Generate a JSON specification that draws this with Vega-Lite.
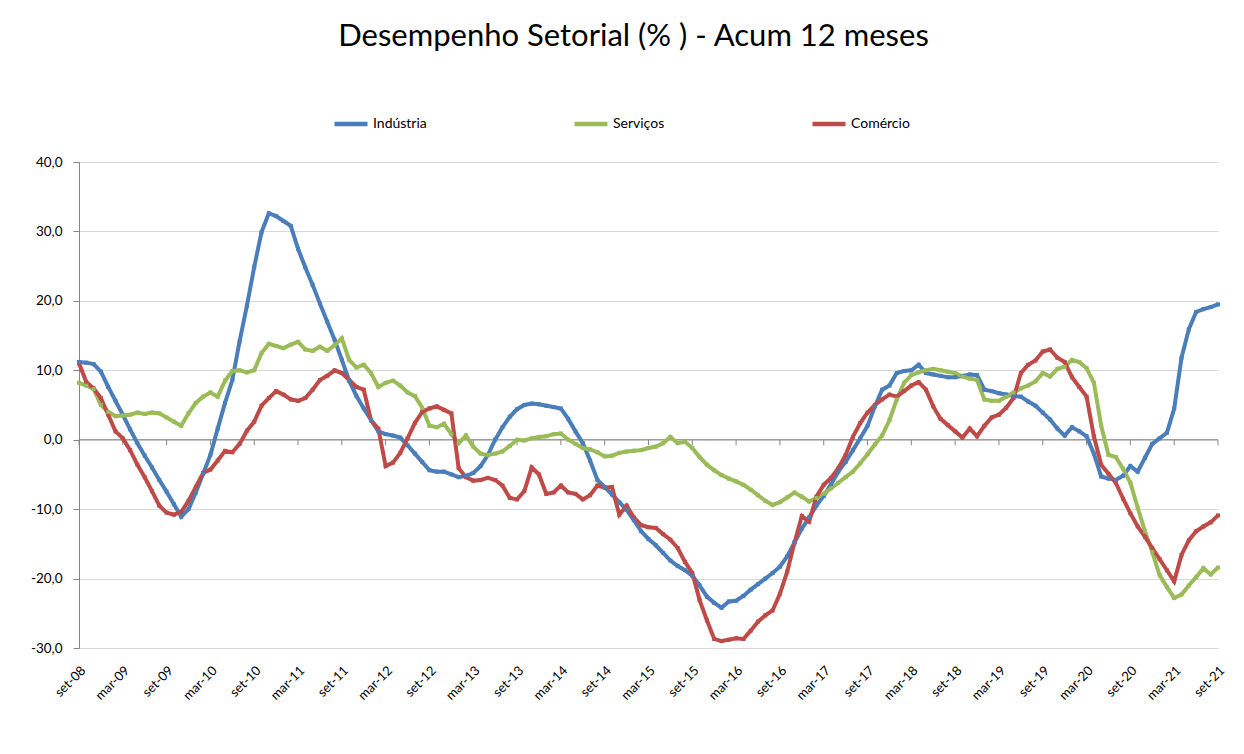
{
  "$schema": "https://vega.github.io/schema/vega-lite/v6.json",
  "width": 1139,
  "height": 486,
  "autosize": {"type": "none"},
  "padding": {"left": 79, "top": 162, "right": 26, "bottom": 106},
  "background": "white",
  "title": {"text": "Desempenho Setorial (% ) - Acum 12 meses", "font": "Lato", "fontSize": 31, "fontWeight": "normal", "color": "#000000", "anchor": "middle", "frame": "group", "dx": -15, "offset": 28, "baseline": "alphabetic"},
  "data": {"values": [
    {"m":"set-08","Indústria":11.2,"Serviços":8.2,"Comércio":11.0},
    {"m":"out-08","Indústria":11.1,"Serviços":7.8,"Comércio":8.3},
    {"m":"nov-08","Indústria":10.9,"Serviços":7.3,"Comércio":7.4},
    {"m":"dez-08","Indústria":9.8,"Serviços":5.0,"Comércio":6.0},
    {"m":"jan-09","Indústria":7.6,"Serviços":4.0,"Comércio":3.6},
    {"m":"fev-09","Indústria":5.6,"Serviços":3.4,"Comércio":1.2},
    {"m":"mar-09","Indústria":3.6,"Serviços":3.5,"Comércio":0.2},
    {"m":"abr-09","Indústria":1.5,"Serviços":3.6,"Comércio":-1.5},
    {"m":"mai-09","Indústria":-0.5,"Serviços":3.9,"Comércio":-3.6},
    {"m":"jun-09","Indústria":-2.3,"Serviços":3.7,"Comércio":-5.4},
    {"m":"jul-09","Indústria":-4.0,"Serviços":3.9,"Comércio":-7.4},
    {"m":"ago-09","Indústria":-5.8,"Serviços":3.8,"Comércio":-9.5},
    {"m":"set-09","Indústria":-7.5,"Serviços":3.2,"Comércio":-10.5},
    {"m":"out-09","Indústria":-9.3,"Serviços":2.6,"Comércio":-10.8},
    {"m":"nov-09","Indústria":-11.1,"Serviços":2.0,"Comércio":-10.4},
    {"m":"dez-09","Indústria":-10.0,"Serviços":3.8,"Comércio":-8.8},
    {"m":"jan-10","Indústria":-7.6,"Serviços":5.3,"Comércio":-6.8},
    {"m":"fev-10","Indústria":-4.9,"Serviços":6.2,"Comércio":-4.8},
    {"m":"mar-10","Indústria":-2.2,"Serviços":6.8,"Comércio":-4.3},
    {"m":"abr-10","Indústria":1.6,"Serviços":6.2,"Comércio":-3.0},
    {"m":"mai-10","Indústria":5.3,"Serviços":8.5,"Comércio":-1.6},
    {"m":"jun-10","Indústria":8.6,"Serviços":9.9,"Comércio":-1.8},
    {"m":"jul-10","Indústria":14.2,"Serviços":10.0,"Comércio":-0.6},
    {"m":"ago-10","Indústria":19.3,"Serviços":9.7,"Comércio":1.3},
    {"m":"set-10","Indústria":24.9,"Serviços":10.0,"Comércio":2.6},
    {"m":"out-10","Indústria":29.9,"Serviços":12.5,"Comércio":4.9},
    {"m":"nov-10","Indústria":32.6,"Serviços":13.8,"Comércio":6.0},
    {"m":"dez-10","Indústria":32.2,"Serviços":13.5,"Comércio":7.0},
    {"m":"jan-11","Indústria":31.5,"Serviços":13.2,"Comércio":6.5},
    {"m":"fev-11","Indústria":30.8,"Serviços":13.7,"Comércio":5.8},
    {"m":"mar-11","Indústria":27.5,"Serviços":14.1,"Comércio":5.6},
    {"m":"abr-11","Indústria":24.8,"Serviços":13.0,"Comércio":6.0},
    {"m":"mai-11","Indústria":22.3,"Serviços":12.8,"Comércio":7.2},
    {"m":"jun-11","Indústria":19.6,"Serviços":13.4,"Comércio":8.6},
    {"m":"jul-11","Indústria":17.0,"Serviços":12.8,"Comércio":9.2},
    {"m":"ago-11","Indústria":14.4,"Serviços":13.6,"Comércio":10.0},
    {"m":"set-11","Indústria":11.5,"Serviços":14.6,"Comércio":9.6},
    {"m":"out-11","Indústria":8.5,"Serviços":11.5,"Comércio":8.6},
    {"m":"nov-11","Indústria":6.3,"Serviços":10.4,"Comércio":7.6},
    {"m":"dez-11","Indústria":4.5,"Serviços":10.8,"Comércio":7.2},
    {"m":"jan-12","Indústria":2.8,"Serviços":9.6,"Comércio":2.8},
    {"m":"fev-12","Indústria":1.2,"Serviços":7.6,"Comércio":1.6},
    {"m":"mar-12","Indústria":0.8,"Serviços":8.2,"Comércio":-3.8},
    {"m":"abr-12","Indústria":0.6,"Serviços":8.5,"Comércio":-3.3},
    {"m":"mai-12","Indústria":0.3,"Serviços":7.8,"Comércio":-1.9},
    {"m":"jun-12","Indústria":-0.8,"Serviços":6.8,"Comércio":0.2},
    {"m":"jul-12","Indústria":-2.0,"Serviços":6.3,"Comércio":2.4},
    {"m":"ago-12","Indústria":-3.2,"Serviços":4.6,"Comércio":4.0},
    {"m":"set-12","Indústria":-4.4,"Serviços":2.0,"Comércio":4.5},
    {"m":"out-12","Indústria":-4.6,"Serviços":1.8,"Comércio":4.8},
    {"m":"nov-12","Indústria":-4.6,"Serviços":2.3,"Comércio":4.3},
    {"m":"dez-12","Indústria":-5.0,"Serviços":0.8,"Comércio":3.8},
    {"m":"jan-13","Indústria":-5.4,"Serviços":-0.5,"Comércio":-4.1},
    {"m":"fev-13","Indústria":-5.2,"Serviços":0.6,"Comércio":-5.4},
    {"m":"mar-13","Indústria":-4.8,"Serviços":-1.0,"Comércio":-5.9},
    {"m":"abr-13","Indústria":-3.8,"Serviços":-2.0,"Comércio":-5.8},
    {"m":"mai-13","Indústria":-2.2,"Serviços":-2.2,"Comércio":-5.5},
    {"m":"jun-13","Indústria":0.0,"Serviços":-2.0,"Comércio":-5.8},
    {"m":"jul-13","Indústria":1.8,"Serviços":-1.7,"Comércio":-6.6},
    {"m":"ago-13","Indústria":3.3,"Serviços":-0.9,"Comércio":-8.4},
    {"m":"set-13","Indústria":4.4,"Serviços":0.0,"Comércio":-8.6},
    {"m":"out-13","Indústria":5.0,"Serviços":-0.1,"Comércio":-7.4},
    {"m":"nov-13","Indústria":5.2,"Serviços":0.2,"Comércio":-4.0},
    {"m":"dez-13","Indústria":5.1,"Serviços":0.4,"Comércio":-5.0},
    {"m":"jan-14","Indústria":4.9,"Serviços":0.5,"Comércio":-7.8},
    {"m":"fev-14","Indústria":4.7,"Serviços":0.8,"Comércio":-7.6},
    {"m":"mar-14","Indústria":4.5,"Serviços":0.9,"Comércio":-6.6},
    {"m":"abr-14","Indústria":3.0,"Serviços":0.0,"Comércio":-7.6},
    {"m":"mai-14","Indústria":1.2,"Serviços":-0.6,"Comércio":-7.8},
    {"m":"jun-14","Indústria":-0.5,"Serviços":-1.2,"Comércio":-8.6},
    {"m":"jul-14","Indústria":-3.0,"Serviços":-1.4,"Comércio":-8.0},
    {"m":"ago-14","Indústria":-5.8,"Serviços":-1.8,"Comércio":-6.6},
    {"m":"set-14","Indústria":-6.8,"Serviços":-2.4,"Comércio":-6.9},
    {"m":"out-14","Indústria":-7.9,"Serviços":-2.3,"Comércio":-6.8},
    {"m":"nov-14","Indústria":-9.0,"Serviços":-1.9,"Comércio":-10.8},
    {"m":"dez-14","Indústria":-10.1,"Serviços":-1.7,"Comércio":-9.5},
    {"m":"jan-15","Indústria":-11.6,"Serviços":-1.6,"Comércio":-11.2},
    {"m":"fev-15","Indústria":-13.2,"Serviços":-1.5,"Comércio":-12.3},
    {"m":"mar-15","Indústria":-14.3,"Serviços":-1.2,"Comércio":-12.6},
    {"m":"abr-15","Indústria":-15.2,"Serviços":-1.0,"Comércio":-12.7},
    {"m":"mai-15","Indústria":-16.3,"Serviços":-0.5,"Comércio":-13.6},
    {"m":"jun-15","Indústria":-17.4,"Serviços":0.4,"Comércio":-14.4},
    {"m":"jul-15","Indústria":-18.2,"Serviços":-0.5,"Comércio":-15.6},
    {"m":"ago-15","Indústria":-18.8,"Serviços":-0.3,"Comércio":-17.6},
    {"m":"set-15","Indústria":-19.6,"Serviços":-1.2,"Comércio":-19.2},
    {"m":"out-15","Indústria":-21.0,"Serviços":-2.5,"Comércio":-23.1},
    {"m":"nov-15","Indústria":-22.6,"Serviços":-3.6,"Comércio":-26.0},
    {"m":"dez-15","Indústria":-23.5,"Serviços":-4.4,"Comércio":-28.7},
    {"m":"jan-16","Indústria":-24.2,"Serviços":-5.1,"Comércio":-29.0},
    {"m":"fev-16","Indústria":-23.3,"Serviços":-5.6,"Comércio":-28.8},
    {"m":"mar-16","Indústria":-23.2,"Serviços":-6.0,"Comércio":-28.6},
    {"m":"abr-16","Indústria":-22.5,"Serviços":-6.5,"Comércio":-28.7},
    {"m":"mai-16","Indústria":-21.6,"Serviços":-7.2,"Comércio":-27.5},
    {"m":"jun-16","Indústria":-20.8,"Serviços":-8.0,"Comércio":-26.2},
    {"m":"jul-16","Indústria":-20.0,"Serviços":-8.8,"Comércio":-25.3},
    {"m":"ago-16","Indústria":-19.2,"Serviços":-9.4,"Comércio":-24.6},
    {"m":"set-16","Indústria":-18.3,"Serviços":-9.0,"Comércio":-22.2},
    {"m":"out-16","Indústria":-16.8,"Serviços":-8.3,"Comércio":-19.0},
    {"m":"nov-16","Indústria":-14.8,"Serviços":-7.6,"Comércio":-14.8},
    {"m":"dez-16","Indústria":-12.8,"Serviços":-8.2,"Comércio":-11.0},
    {"m":"jan-17","Indústria":-11.2,"Serviços":-8.9,"Comércio":-11.8},
    {"m":"fev-17","Indústria":-9.5,"Serviços":-8.4,"Comércio":-8.2},
    {"m":"mar-17","Indústria":-8.1,"Serviços":-7.8,"Comércio":-6.5},
    {"m":"abr-17","Indústria":-6.4,"Serviços":-7.0,"Comércio":-5.5},
    {"m":"mai-17","Indústria":-4.6,"Serviços":-6.2,"Comércio":-4.1},
    {"m":"jun-17","Indústria":-3.2,"Serviços":-5.4,"Comércio":-2.2},
    {"m":"jul-17","Indústria":-1.5,"Serviços":-4.6,"Comércio":0.4},
    {"m":"ago-17","Indústria":0.2,"Serviços":-3.4,"Comércio":2.4},
    {"m":"set-17","Indústria":2.0,"Serviços":-2.1,"Comércio":3.9},
    {"m":"out-17","Indústria":4.8,"Serviços":-0.7,"Comércio":5.0},
    {"m":"nov-17","Indústria":7.2,"Serviços":0.6,"Comércio":5.8},
    {"m":"dez-17","Indústria":7.8,"Serviços":2.8,"Comércio":6.5},
    {"m":"jan-18","Indústria":9.6,"Serviços":5.8,"Comércio":6.2},
    {"m":"fev-18","Indústria":9.9,"Serviços":8.2,"Comércio":7.0},
    {"m":"mar-18","Indústria":10.0,"Serviços":9.3,"Comércio":7.8},
    {"m":"abr-18","Indústria":10.8,"Serviços":9.7,"Comércio":8.3},
    {"m":"mai-18","Indústria":9.6,"Serviços":10.0,"Comércio":7.2},
    {"m":"jun-18","Indústria":9.4,"Serviços":10.2,"Comércio":4.8},
    {"m":"jul-18","Indústria":9.2,"Serviços":10.0,"Comércio":3.0},
    {"m":"ago-18","Indústria":9.0,"Serviços":9.8,"Comércio":2.1},
    {"m":"set-18","Indústria":9.0,"Serviços":9.6,"Comércio":1.2},
    {"m":"out-18","Indústria":9.2,"Serviços":9.1,"Comércio":0.3},
    {"m":"nov-18","Indústria":9.4,"Serviços":8.8,"Comércio":1.6},
    {"m":"dez-18","Indústria":9.3,"Serviços":8.6,"Comércio":0.5},
    {"m":"jan-19","Indústria":7.2,"Serviços":5.8,"Comércio":2.0},
    {"m":"fev-19","Indústria":7.0,"Serviços":5.6,"Comércio":3.2},
    {"m":"mar-19","Indústria":6.7,"Serviços":5.6,"Comércio":3.6},
    {"m":"abr-19","Indústria":6.5,"Serviços":6.2,"Comércio":4.6},
    {"m":"mai-19","Indústria":6.3,"Serviços":6.8,"Comércio":6.0},
    {"m":"jun-19","Indústria":6.2,"Serviços":7.4,"Comércio":9.6},
    {"m":"jul-19","Indústria":5.5,"Serviços":7.8,"Comércio":10.8},
    {"m":"ago-19","Indústria":4.9,"Serviços":8.4,"Comércio":11.4},
    {"m":"set-19","Indústria":3.9,"Serviços":9.6,"Comércio":12.7},
    {"m":"out-19","Indústria":2.9,"Serviços":9.1,"Comércio":13.0},
    {"m":"nov-19","Indústria":1.6,"Serviços":10.2,"Comércio":11.8},
    {"m":"dez-19","Indústria":0.6,"Serviços":10.5,"Comércio":11.2},
    {"m":"jan-20","Indústria":1.8,"Serviços":11.5,"Comércio":9.0},
    {"m":"fev-20","Indústria":1.2,"Serviços":11.2,"Comércio":7.6},
    {"m":"mar-20","Indústria":0.5,"Serviços":10.3,"Comércio":6.2},
    {"m":"abr-20","Indústria":-2.0,"Serviços":8.2,"Comércio":0.5},
    {"m":"mai-20","Indústria":-5.3,"Serviços":2.0,"Comércio":-3.6},
    {"m":"jun-20","Indústria":-5.6,"Serviços":-2.2,"Comércio":-4.9},
    {"m":"jul-20","Indústria":-5.8,"Serviços":-2.5,"Comércio":-6.2},
    {"m":"ago-20","Indústria":-5.2,"Serviços":-4.2,"Comércio":-8.5},
    {"m":"set-20","Indústria":-3.8,"Serviços":-6.2,"Comércio":-10.6},
    {"m":"out-20","Indústria":-4.6,"Serviços":-9.8,"Comércio":-12.5},
    {"m":"nov-20","Indústria":-2.6,"Serviços":-13.2,"Comércio":-14.0},
    {"m":"dez-20","Indústria":-0.6,"Serviços":-16.2,"Comércio":-15.6},
    {"m":"jan-21","Indústria":0.2,"Serviços":-19.5,"Comércio":-17.2},
    {"m":"fev-21","Indústria":1.0,"Serviços":-21.2,"Comércio":-18.8},
    {"m":"mar-21","Indústria":4.5,"Serviços":-22.8,"Comércio":-20.4},
    {"m":"abr-21","Indústria":11.8,"Serviços":-22.3,"Comércio":-16.6},
    {"m":"mai-21","Indústria":15.9,"Serviços":-21.0,"Comércio":-14.5},
    {"m":"jun-21","Indústria":18.4,"Serviços":-19.8,"Comércio":-13.2},
    {"m":"jul-21","Indústria":18.8,"Serviços":-18.5,"Comércio":-12.5},
    {"m":"ago-21","Indústria":19.1,"Serviços":-19.4,"Comércio":-11.9},
    {"m":"set-21","Indústria":19.5,"Serviços":-18.4,"Comércio":-10.9}
  ]},
  "layer": [
    {
      "data": {"values": [{}]},
      "mark": {"type": "rule", "color": "#868686", "strokeWidth": 1},
      "encoding": {"y": {"datum": 0, "type": "quantitative"}}
    },
    {
      "transform": [{"filter": {"field": "m", "oneOf": ["set-08","mar-09","set-09","mar-10","set-10","mar-11","set-11","mar-12","set-12","mar-13","set-13","mar-14","set-14","mar-15","set-15","mar-16","set-16","mar-17","set-17","mar-18","set-18","mar-19","set-19","mar-20","set-20","mar-21","set-21"]}}],
      "mark": {"type": "rule", "color": "#868686", "strokeWidth": 1},
      "encoding": {
        "x": {"field": "m", "type": "ordinal"},
        "y": {"datum": 0, "type": "quantitative"},
        "y2": {"datum": -0.8}
      }
    },
    {
      "transform": [{"fold": ["Indústria", "Serviços", "Comércio"], "as": ["serie", "valor"]}],
      "mark": {"type": "line", "strokeWidth": 4, "point": {"shape": "square", "size": 16, "filled": true}},
      "encoding": {
        "x": {
          "field": "m", "type": "ordinal",
          "scale": {"type": "point", "padding": 0, "domain": ["set-08","out-08","nov-08","dez-08","jan-09","fev-09","mar-09","abr-09","mai-09","jun-09","jul-09","ago-09","set-09","out-09","nov-09","dez-09","jan-10","fev-10","mar-10","abr-10","mai-10","jun-10","jul-10","ago-10","set-10","out-10","nov-10","dez-10","jan-11","fev-11","mar-11","abr-11","mai-11","jun-11","jul-11","ago-11","set-11","out-11","nov-11","dez-11","jan-12","fev-12","mar-12","abr-12","mai-12","jun-12","jul-12","ago-12","set-12","out-12","nov-12","dez-12","jan-13","fev-13","mar-13","abr-13","mai-13","jun-13","jul-13","ago-13","set-13","out-13","nov-13","dez-13","jan-14","fev-14","mar-14","abr-14","mai-14","jun-14","jul-14","ago-14","set-14","out-14","nov-14","dez-14","jan-15","fev-15","mar-15","abr-15","mai-15","jun-15","jul-15","ago-15","set-15","out-15","nov-15","dez-15","jan-16","fev-16","mar-16","abr-16","mai-16","jun-16","jul-16","ago-16","set-16","out-16","nov-16","dez-16","jan-17","fev-17","mar-17","abr-17","mai-17","jun-17","jul-17","ago-17","set-17","out-17","nov-17","dez-17","jan-18","fev-18","mar-18","abr-18","mai-18","jun-18","jul-18","ago-18","set-18","out-18","nov-18","dez-18","jan-19","fev-19","mar-19","abr-19","mai-19","jun-19","jul-19","ago-19","set-19","out-19","nov-19","dez-19","jan-20","fev-20","mar-20","abr-20","mai-20","jun-20","jul-20","ago-20","set-20","out-20","nov-20","dez-20","jan-21","fev-21","mar-21","abr-21","mai-21","jun-21","jul-21","ago-21","set-21"]},
          "axis": {
            "values": ["set-08","mar-09","set-09","mar-10","set-10","mar-11","set-11","mar-12","set-12","mar-13","set-13","mar-14","set-14","mar-15","set-15","mar-16","set-16","mar-17","set-17","mar-18","set-18","mar-19","set-19","mar-20","set-20","mar-21","set-21"],
            "title": null, "labelAngle": -45, "labelAlign": "right", "labelBaseline": "middle",
            "labelPadding": 20, "labelOffset": 4, "ticks": false, "domain": false, "grid": false,
            "labelFont": "Lato", "labelFontSize": 13, "labelColor": "#000000", "labelOverlap": false
          }
        },
        "y": {
          "field": "valor", "type": "quantitative",
          "scale": {"domain": [-30, 40], "nice": false, "zero": false},
          "axis": {
            "values": [-30, -20, -10, 0, 10, 20, 30, 40], "title": null,
            "grid": true, "gridColor": "#d9d9d9", "gridWidth": 1,
            "domainColor": "#868686", "tickColor": "#868686", "tickSize": 6,
            "labelFont": "Lato", "labelFontSize": 13.5, "labelColor": "#000000", "labelPadding": 11,
            "labelExpr": "replace(replace(format(datum.value, '.1f'), '.', ','), '−', '-')"
          }
        },
        "color": {
          "field": "serie", "type": "nominal",
          "scale": {"domain": ["Indústria", "Serviços", "Comércio"], "range": ["#4A7EBB", "#9BBB59", "#BE4B48"]},
          "legend": {
            "orient": "none", "legendX": 253, "legendY": -57, "direction": "horizontal", "title": null,
            "symbolType": "stroke", "symbolSize": 1089, "symbolStrokeWidth": 4.5,
            "labelFont": "Lato", "labelFontSize": 14, "labelColor": "#000000", "labelOffset": 3,
            "columnPadding": 138, "padding": 0
          }
        },
        "order": {"field": "serie"}
      }
    }
  ],
  "config": {"view": {"stroke": null}, "font": "Lato"}
}
